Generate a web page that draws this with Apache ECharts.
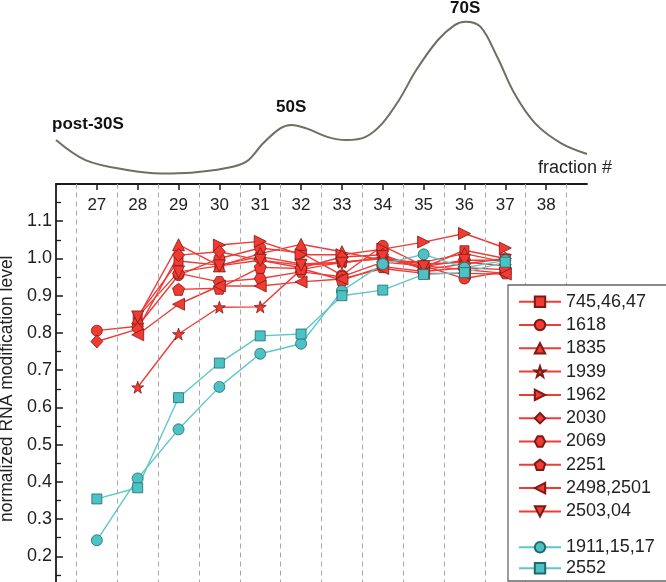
<!DOCTYPE html>
<html>
<head>
<meta charset="utf-8">
<script src="https://cdn.jsdelivr.net/npm/echarts@6/dist/echarts.min.js"></script>
<style>html,body{margin:0;padding:0;background:#fff}#c{width:666px;height:582px}</style>
</head>
<body>
<div id="c"></div>
<script>
// ---- data ----
const fractions = [27, 28, 29, 30, 31, 32, 33, 34, 35, 36, 37];
const fractionTicks = [27, 28, 29, 30, 31, 32, 33, 34, 35, 36, 37, 38];
const s745 = [null, 0.845, 0.993, 0.982, 1.005, 0.985, 0.990, 1.000, 0.975, 1.022, 1.000];
const s1618 = [0.806, 0.818, 0.955, 1.000, 1.028, 1.015, 0.955, 1.034, 0.980, 0.946, 0.965];
const s1835 = [null, 0.840, 1.037, 0.980, 1.013, 1.038, 1.018, 0.995, 0.990, 1.013, 0.990];
const s1939 = [null, 0.654, 0.797, 0.869, 0.870, 0.970, 0.990, 1.000, 0.985, 0.990, 0.980];
const s1962 = [null, null, null, 1.036, 1.046, 1.010, 1.010, 1.025, 1.044, 1.067, 1.028];
const s2030 = [0.777, 0.810, 1.009, 1.018, 0.995, 0.975, 1.004, 1.010, 0.970, 0.985, 1.000];
const s2069 = [null, null, 0.960, 0.937, 0.946, 0.964, 0.951, 0.990, 0.980, 0.970, 0.960];
const s2251 = [null, null, 0.917, 0.920, 0.976, 0.973, 0.942, 0.978, 0.965, 0.975, 0.970];
const s2498 = [null, 0.795, 0.877, 0.926, 0.926, 0.937, 0.945, 0.973, 0.960, 0.960, 0.958];
const s2503 = [null, 0.843, 0.964, 0.980, 0.995, 0.982, 0.987, 1.005, 0.978, 0.995, 0.995];
const c1911 = [0.243, 0.409, 0.541, 0.655, 0.744, 0.771, 0.913, 0.985, 1.011, 0.975, 0.995];
const c2552 = [0.354, 0.384, 0.626, 0.719, 0.792, 0.797, 0.900, 0.915, 0.957, 0.962, 0.990];
// sedimentation profile (absorbance, arbitrary units) vs fraction
const profileX = [26.0, 26.72, 27.74, 28.58, 29.31, 30.14, 30.66, 31.07, 31.49, 31.76, 32.13, 32.64, 33.11, 33.58, 33.99, 34.40, 34.82, 35.35, 35.76, 36.02, 36.39, 36.80, 37.22, 37.73, 38.37, 39.0];
const profileY = [0.244, 0.133, 0.078, 0.059, 0.063, 0.087, 0.124, 0.226, 0.309, 0.328, 0.309, 0.262, 0.244, 0.262, 0.337, 0.467, 0.633, 0.800, 0.883, 0.902, 0.874, 0.707, 0.504, 0.337, 0.226, 0.167];
const peakLabels = ['post-30S', '50S', '70S'];
const redNames = ['745,46,47', '1618', '1835', '1939', '1962', '2030', '2069', '2251', '2498,2501', '2503,04'];
const cyanNames = ['1911,15,17', '2552'];

// ---- styles ----
const FONT = 'Liberation Sans, Arial, Helvetica, sans-serif';
const RED = '#f03a32', RED_LINE = '#ee3b36', RED_EDGE = '#7d1a15';
const CYAN = '#4dc2c5', CYAN_LINE = '#5cc8ca', CYAN_EDGE = '#1f6a6c';
const STAR = 'path://M50,0 L61.8,35.1 L98.1,35.1 L68.8,56.7 L79.4,91 L50,70 L20.6,91 L31.2,56.7 L1.9,35.1 L38.2,35.1 Z';
const PENT = 'path://M50,0 L97.6,34.5 L79.4,90.5 L20.6,90.5 L2.4,34.5 Z';
const HEX = 'path://M27,0 L73,0 L100,50 L73,100 L27,100 L0,50 Z';

function pts(arr) {
  const out = [];
  arr.forEach((v, i) => { if (v !== null) out.push([fractions[i], v]); });
  return out;
}
function mk(name, arr, symbol, size, rotate, cyan) {
  return {
    name: name, type: 'line', xAxisIndex: 0, yAxisIndex: 0, z: 3,
    data: pts(arr), symbol: symbol, symbolSize: size, symbolRotate: rotate || 0,
    showAllSymbol: true, animation: false,
    lineStyle: { color: cyan ? CYAN_LINE : RED_LINE, width: 1.4 },
    itemStyle: { color: cyan ? CYAN : RED, borderColor: cyan ? CYAN_EDGE : RED_EDGE, borderWidth: 0.8 }
  };
}
const halfLines = fractionTicks.concat([26]).sort((a,b)=>a-b).map(f => ({ xAxis: f + 0.5 }));

const chart = echarts.init(document.getElementById('c'), null, { renderer: 'canvas' });
const option = {
  animation: false,
  textStyle: { fontFamily: FONT },
  grid: [
    { left: 56, right: 79, top: 184, bottom: -11.5, containLabel: false, outerBoundsMode: 'none' },
    { left: 56, right: 79, top: 4, height: 180, containLabel: false, outerBoundsMode: 'none' }
  ],
  xAxis: [
    {
      gridIndex: 0, type: 'value', position: 'top', min: 26, max: 39, interval: 1,
      axisLine: { show: true, lineStyle: { color: '#1a1a1a', width: 1.8 } },
      axisTick: { show: true, inside: true, length: 6, customValues: fractionTicks, lineStyle: { color: '#1a1a1a', width: 1.5 } },
      axisLabel: { inside: true, margin: 13, fontSize: 17, color: '#222', fontFamily: FONT, customValues: fractionTicks },
      splitLine: { show: false }
    },
    { gridIndex: 1, type: 'value', min: 26, max: 39, show: false }
  ],
  yAxis: [
    {
      gridIndex: 0, type: 'value', min: 0.1, max: 1.2, interval: 0.1,
      name: 'normalized RNA modification level', nameLocation: 'middle', nameGap: 40,
      nameTextStyle: { fontSize: 17.5, color: '#222', fontFamily: FONT },
      axisLine: { show: true, lineStyle: { color: '#1a1a1a', width: 1.8 } },
      axisTick: { show: true, inside: true, length: 7, lineStyle: { color: '#1a1a1a', width: 1.5 } },
      minorTick: { show: true, splitNumber: 2, length: 5, lineStyle: { color: '#1a1a1a', width: 1.3 } },
      axisLabel: { margin: 4, fontSize: 18, color: '#222', fontFamily: FONT,
        formatter: v => (v > 1.15 || v < 0.15) ? '' : v.toFixed(1) },
      splitLine: { show: false }
    },
    { gridIndex: 1, type: 'value', min: 0, max: 1, show: false }
  ],
  legend: [
    {
      data: redNames, orient: 'vertical', left: 518, top: 292.7, height: 240, padding: 0,
      itemWidth: 42, itemHeight: 13, itemGap: 5.3,
      z: 10, textStyle: { fontSize: 18, color: '#222', fontFamily: FONT }, selectedMode: false
    },
    {
      data: cyanNames, orient: 'vertical', left: 518, top: 538.3, height: 44, padding: 0,
      itemWidth: 42, itemHeight: 13, itemGap: 3,
      z: 10, textStyle: { fontSize: 18, color: '#222', fontFamily: FONT }, selectedMode: false
    }
  ],
  graphic: [
    { type: 'rect', z: 6, shape: { x: 508, y: 285, width: 170, height: 296 },
      style: { fill: '#fff', stroke: '#666', lineWidth: 1.3 } },
    { type: 'text', z: 6, left: 52, top: 116, style: { text: peakLabels[0], font: 'bold 17px ' + FONT, fill: '#111' } },
    { type: 'text', z: 6, left: 276, top: 99, style: { text: peakLabels[1], font: 'bold 17px ' + FONT, fill: '#111' } },
    { type: 'text', z: 6, left: 450, top: 0, style: { text: peakLabels[2], font: 'bold 17px ' + FONT, fill: '#111' } },
    { type: 'text', z: 6, left: 538, top: 159, style: { text: 'fraction #', font: '18px ' + FONT, fill: '#222' } }
  ],
  series: [
    {
      name: 'grid-lines', type: 'line', xAxisIndex: 0, yAxisIndex: 0, data: [], z: 1, silent: true,
      markLine: { silent: true, symbol: ['none', 'none'], label: { show: false }, animation: false,
        lineStyle: { color: '#a8a8a8', type: [5, 4], width: 1 }, data: halfLines }
    },
    {
      name: 'profile', type: 'line', xAxisIndex: 1, yAxisIndex: 1, smooth: 0.35, showSymbol: false,
      data: profileX.map((x, i) => [x, profileY[i]]),
      lineStyle: { color: '#6e6e62', width: 2 }, z: 2
    },
    mk(redNames[0], s745, 'rect', 9, 0, false),
    mk(redNames[1], s1618, 'circle', 11, 0, false),
    mk(redNames[2], s1835, 'triangle', 12, 0, false),
    mk(redNames[3], s1939, STAR, 12, 0, false),
    mk(redNames[4], s1962, 'triangle', 12, -90, false),
    mk(redNames[5], s2030, 'diamond', [12, 13], 0, false),
    mk(redNames[6], s2069, HEX, [12, 11], 0, false),
    mk(redNames[7], s2251, PENT, 12, 0, false),
    mk(redNames[8], s2498, 'triangle', 12, 90, false),
    mk(redNames[9], s2503, 'triangle', 12, 180, false),
    mk(cyanNames[0], c1911, 'circle', 11, 0, true),
    mk(cyanNames[1], c2552, 'rect', 10, 0, true)
  ]
};
chart.setOption(option);
</script>
</body>
</html>
